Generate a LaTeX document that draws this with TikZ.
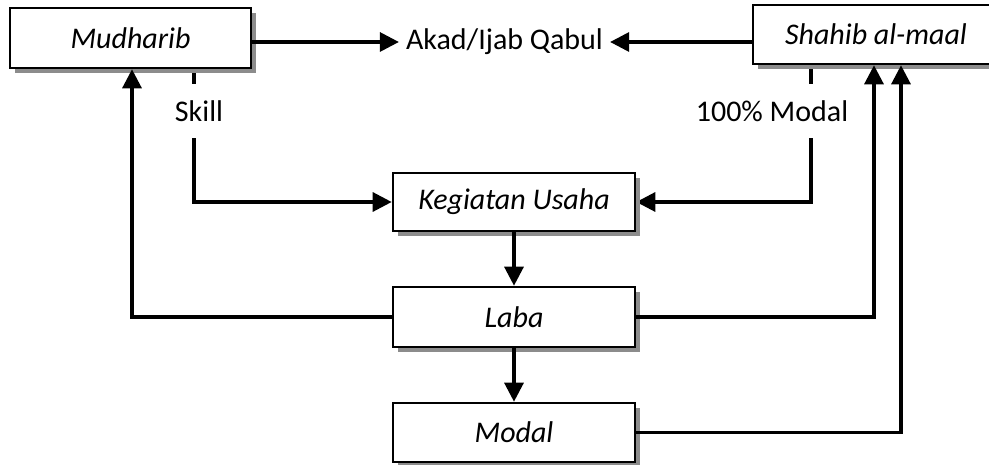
\documentclass[tikz,border=0pt]{standalone}
\usepackage{fontspec}
\setmainfont{Carlito}
\usetikzlibrary{arrows.meta,shadows,backgrounds}
\begin{document}
\begin{tikzpicture}[x=1pt,y=-1pt,
  box/.style={draw, line width=2.6pt, fill=white, minimum width=242pt, minimum height=59pt,
    inner sep=0pt, font=\fontsize{30}{36}\selectfont\itshape,
    drop shadow={shadow xshift=5pt, shadow yshift=-5pt, fill=black!45, opacity=1}},
  conn/.style={line width=3.2pt},
  arr/.style={conn, -{Triangle[length=19pt,width=19pt]}},
  lbl/.style={font=\fontsize{30}{36}\selectfont, fill=white, inner xsep=2pt, inner ysep=16pt}]
\useasboundingbox (0,0) rectangle (989,465);
% boxes
\node[box, minimum width=241pt, minimum height=60pt] (mud) at (130.5,38) {Mudharib};
\node[box, minimum width=246pt] (sha) at (876,34.5) {Shahib al-maal};
\node[box, minimum height=58pt] (keg) at (514,202) {Kegiatan Usaha};
\node[box, minimum height=60pt] (laba) at (514,317) {Laba};
\node[box] (modal) at (514,432.5) {Modal};
% centre text
\node[font=\fontsize{30}{36}\selectfont, inner xsep=7pt] (akad) at (504.5,42) {Akad/Ijab Qabul};
% helper x positions
\coordinate (skx) at (194,0);
\coordinate (mdx) at (811,0);
\coordinate (mux) at (132,0);
\coordinate (s1x) at (874,0);
\coordinate (s2x) at (901,0);
% lines behind the boxes
\begin{pgfonlayer}{background}
  \draw[arr] (skx |- mud.south) |- (keg.west);
  \draw[arr] (mdx |- sha.south) |- (keg.east);
\end{pgfonlayer}
\node[lbl] (skill) at (199,111) {Skill};
\node[lbl] (pmodal) at (772,111) {100\% Modal};
% arrows
\draw[arr] (mud.east |- akad) -- (akad.west);
\draw[arr] (sha.west |- akad) -- (akad.east);
\draw[arr] (keg.south) -- (laba.north);
\draw[arr] (laba.south) -- (modal.north);
\draw[arr] (laba.west) -| (mux |- mud.south);
\draw[arr] (laba.east) -| (s1x |- sha.south);
\draw[arr] (modal.east) -| (s2x |- sha.south);
\end{tikzpicture}
\end{document}
